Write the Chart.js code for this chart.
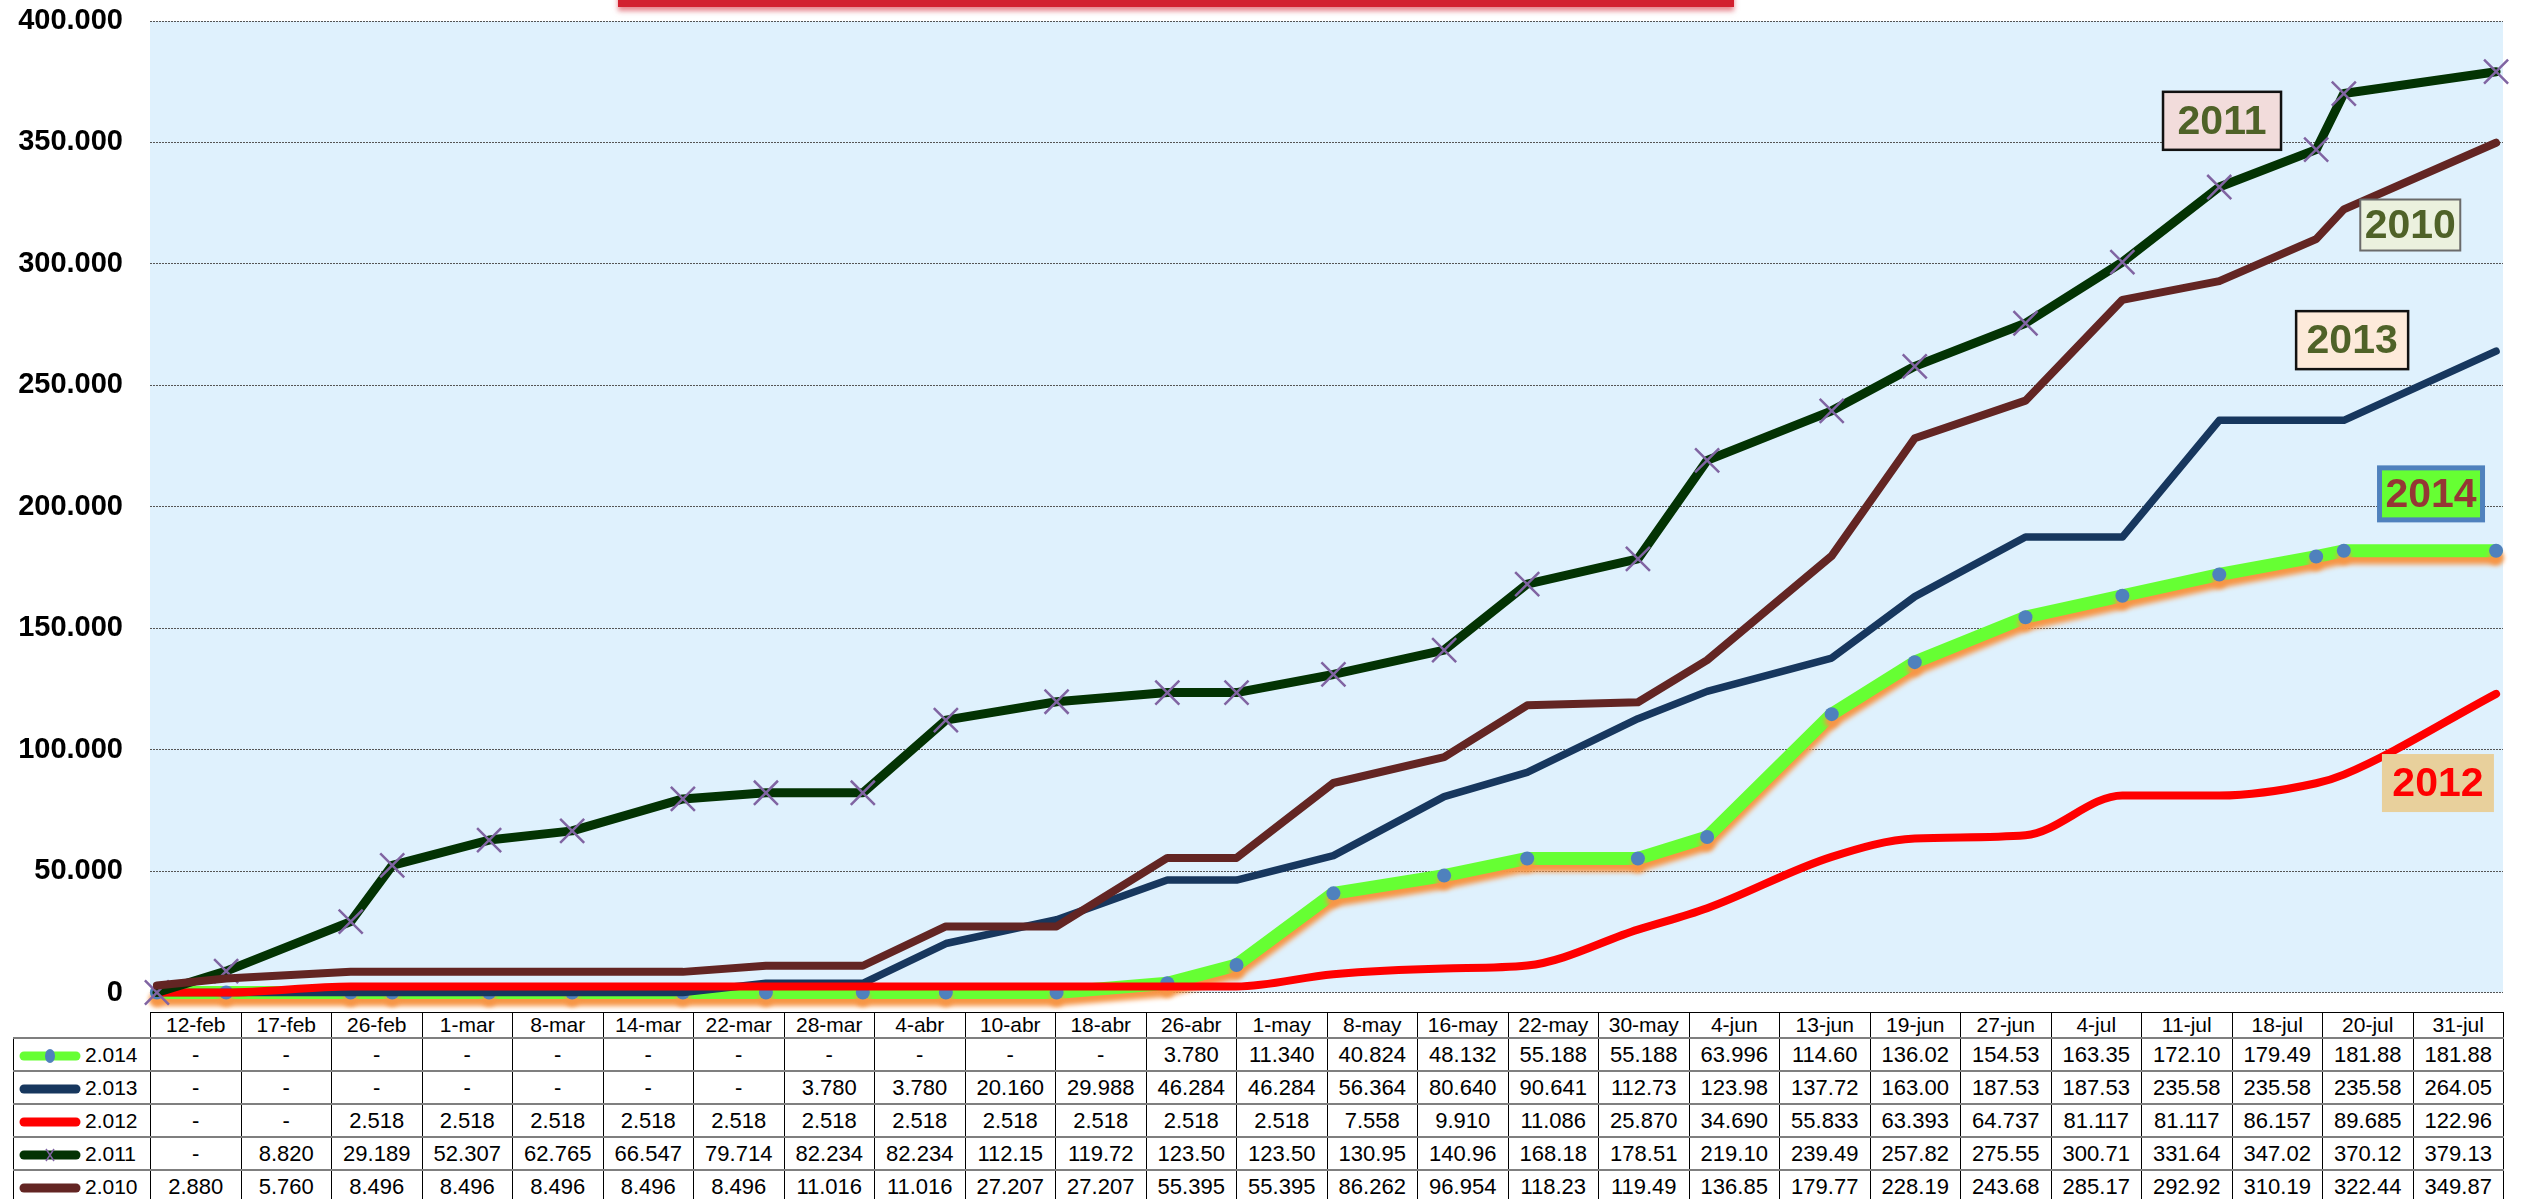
<!DOCTYPE html>
<html>
<head>
<meta charset="utf-8">
<script src="https://cdn.jsdelivr.net/npm/chart.js@4.4.1/dist/chart.umd.min.js"></script>
<style>
  html, body { margin: 0; padding: 0; background: #fff; }
  body { width: 2529px; height: 1199px; overflow: hidden; position: relative; font-family: 'Liberation Sans', Arial, sans-serif; }
  #chartBox { position: absolute; left: 0; top: 0; width: 2529px; height: 1012px; }
  #titleBar { position: absolute; left: 618px; top: -20px; width: 1116px; height: 27px; background: #d2202f; box-shadow: 0 4px 5px rgba(210, 32, 48, 0.55); }
  #dataTable { position: absolute; top: 1012px; left: 13px; border-collapse: collapse; table-layout: fixed; font-size: 22px; color: #000; }
  #dataTable td { text-align: center; padding: 0; border-left: 1px solid #000; border-right: 1px solid #000; border-bottom: 2px solid #7f7f7f; height: 31px; white-space: nowrap; overflow: hidden; }
  #dataTable tr.head td { height: 22px; font-size: 21px; border-top: 1px solid #000; border-bottom: 2px solid #7f7f7f; }
  #dataTable tr.head td.corner { border-top: none; border-left: none; }
  #dataTable td.name { text-align: left; padding-left: 4px; font-size: 21px; }
  #dataTable td.name canvas { vertical-align: middle; margin-right: 3px; }
</style>
</head>
<body>
<div id="titleBar"></div>
<div id="chartBox"><canvas id="salesChart"></canvas></div>
<table id="dataTable"></table>
<script>
'use strict';

const dateLabels = ['12-feb', '17-feb', '26-feb', '1-mar', '8-mar', '14-mar', '22-mar', '28-mar', '4-abr',
  '10-abr', '18-abr', '26-abr', '1-may', '8-may', '16-may', '22-may', '30-may', '4-jun', '13-jun',
  '19-jun', '27-jun', '4-jul', '11-jul', '18-jul', '20-jul', '31-jul'];

const seriesNames = ['2.014', '2.013', '2.012', '2.011', '2.010'];

const values2014 = [0, 0, 0, 0, 0, 0, 0, 0, 0, 0, 0, 3780, 11340, 40824, 48132, 55188, 55188, 63996,
  114600, 136020, 154530, 163350, 172100, 179490, 181880, 181880];
const values2013 = [0, 0, 0, 0, 0, 0, 0, 3780, 3780, 20160, 29988, 46284, 46284, 56364, 80640, 90641,
  112730, 123980, 137720, 163000, 187530, 187530, 235580, 235580, 235580, 264050];
const values2012 = [0, 0, 2518, 2518, 2518, 2518, 2518, 2518, 2518, 2518, 2518, 2518, 2518, 7558, 9910,
  11086, 25870, 34690, 55833, 63393, 64737, 81117, 81117, 86157, 89685, 122960];
const values2011 = [0, 8820, 29189, 52307, 62765, 66547, 79714, 82234, 82234, 112150, 119720, 123500,
  123500, 130950, 140960, 168180, 178510, 219100, 239490, 257820, 275550, 300710, 331640, 347020,
  370120, 379130];
const values2010 = [2880, 5760, 8496, 8496, 8496, 8496, 8496, 11016, 11016, 27207, 27207, 55395, 55395,
  86262, 96954, 118230, 119490, 136850, 179770, 228190, 243680, 285170, 292920, 310190, 322440, 349870];

const seriesValues = [values2014, values2013, values2012, values2011, values2010];

// dates -> day number, so the lines sit on a real date axis like the original
const monthIndex = { ene: 0, feb: 1, mar: 2, abr: 3, may: 4, jun: 5, jul: 6, ago: 7 };
function dayNumber(label) {
  const parts = label.split('-');
  return Date.UTC(2014, monthIndex[parts[1]], Number(parts[0])) / 86400000;
}
const firstDay = dayNumber(dateLabels[0]);
const dayOffsets = dateLabels.map(l => dayNumber(l) - firstDay);

function thousands(v) {
  return String(Math.round(v)).replace(/\B(?=(\d{3})+(?!\d))/g, '.');
}
function cellText(v) {
  return v === 0 ? '-' : thousands(v).slice(0, 6);
}

const seriesStyles = [
  { color: '#66ff33', width: 13, point: 'circle', pointColor: '#4f81bd', radius: 7, glow: true },
  { color: '#17375e', width: 7.5, point: false },
  { color: '#ff0000', width: 8, point: false, smooth: true },
  { color: '#033303', width: 9, point: 'crossRot', pointColor: '#8064a2', radius: 17 },
  { color: '#632523', width: 8, point: false }
];

const yearBoxes = [
  { text: '2011', day: 149.2, value: 358900, w: 118, h: 58, fill: '#f2dcdb', stroke: '#111', lw: 2.5, color: '#4f6228' },
  { text: '2010', day: 162.8, value: 316000, w: 100, h: 51, fill: '#ebf1de', stroke: '#6b6b6b', lw: 2, color: '#4f6228' },
  { text: '2013', day: 158.6, value: 268600, w: 112, h: 58, fill: '#fdeada', stroke: '#111', lw: 2.5, color: '#4f6228' },
  { text: '2014', day: 164.3, value: 205300, w: 103, h: 52, fill: '#66ff33', stroke: '#4f81bd', lw: 5, color: '#953735' },
  { text: '2012', day: 164.8, value: 86240, w: 112, h: 58, fill: '#e8d09c', stroke: null, lw: 0, color: '#ff0000' }
];

const datasets = seriesValues.map((vals, i) => {
  const s = seriesStyles[i];
  return {
    label: seriesNames[i],
    data: vals.map((v, j) => ({ x: dayOffsets[j], y: v })),
    borderColor: s.color,
    borderWidth: s.width,
    borderCapStyle: 'round',
    borderJoinStyle: 'round',
    cubicInterpolationMode: s.smooth ? 'monotone' : 'default',
    tension: 0,
    pointStyle: s.point || 'circle',
    pointRadius: s.point ? s.radius : 0,
    pointBackgroundColor: s.pointColor,
    pointBorderColor: s.pointColor,
    pointBorderWidth: s.point === 'crossRot' ? 2.5 : 0,
    fill: false,
    clip: 30,
    glow: !!s.glow,
    order: seriesValues.length - 1 - i
  };
});

const plotBackground = {
  id: 'plotBackground',
  beforeDraw(chart) {
    const a = chart.chartArea;
    const ctx = chart.ctx;
    ctx.save();
    ctx.fillStyle = '#dff1fd';
    ctx.fillRect(a.left, a.top, a.right - a.left, a.bottom - a.top);
    ctx.restore();
  }
};

const glowShadow = {
  id: 'glowShadow',
  beforeDatasetDraw(chart, args) {
    if (!chart.data.datasets[args.index].glow) return;
    const ctx = chart.ctx;
    ctx.save();
    ctx.shadowColor = 'rgba(247, 150, 70, 1)';
    ctx.shadowBlur = 5;
    ctx.shadowOffsetY = 7;
  },
  afterDatasetDraw(chart, args) {
    if (!chart.data.datasets[args.index].glow) return;
    chart.ctx.restore();
  }
};

const yearLabels = {
  id: 'yearLabels',
  afterDatasetsDraw(chart) {
    const ctx = chart.ctx;
    const xs = chart.scales.x, ys = chart.scales.y;
    ctx.save();
    yearBoxes.forEach(b => {
      const cx = xs.getPixelForValue(b.day);
      const cy = ys.getPixelForValue(b.value);
      const x = cx - b.w / 2, y = cy - b.h / 2;
      ctx.fillStyle = b.fill;
      ctx.fillRect(x, y, b.w, b.h);
      if (b.stroke) {
        ctx.lineWidth = b.lw;
        ctx.strokeStyle = b.stroke;
        ctx.strokeRect(x, y, b.w, b.h);
      }
      ctx.fillStyle = b.color;
      ctx.font = 'bold 41px "Liberation Sans", Arial, sans-serif';
      ctx.textAlign = 'center';
      ctx.textBaseline = 'middle';
      ctx.fillText(b.text, cx, cy + 2);
    });
    ctx.restore();
  }
};

const lastDay = dayOffsets[dayOffsets.length - 1];

const salesChart = new Chart(document.getElementById('salesChart'), {
  type: 'line',
  data: { datasets: datasets },
  options: {
    responsive: true,
    maintainAspectRatio: false,
    animation: false,
    layout: { padding: { top: 21, right: 26, bottom: 17, left: 0 } },
    plugins: { legend: { display: false }, tooltip: { enabled: false } },
    scales: {
      x: { type: 'linear', min: -0.5, max: lastDay + 0.5, display: false },
      y: {
        min: 0,
        max: 400000,
        afterFit(scale) {
          scale.width = 150;
          scale.paddingTop = 0;
          scale.paddingBottom = 0;
        },
        ticks: {
          stepSize: 50000,
          padding: 27,
          color: '#000',
          font: { family: '"Liberation Sans", Arial, sans-serif', size: 29, weight: 'bold', lineHeight: 1 },
          callback: v => thousands(v)
        },
        grid: { color: '#555', lineWidth: 1, drawTicks: false },
        border: { display: false, dash: [2, 1] }
      }
    }
  },
  plugins: [plotBackground, glowShadow, yearLabels]
});

// data table under the plot, columns lined up with the plot area
function drawKey(canvas, i) {
  const s = seriesStyles[i];
  const ctx = canvas.getContext('2d');
  ctx.lineCap = 'round';
  ctx.lineWidth = 9;
  ctx.strokeStyle = s.color;
  ctx.beginPath();
  ctx.moveTo(6, 9);
  ctx.lineTo(58, 9);
  ctx.stroke();
  if (s.point === 'circle') {
    ctx.fillStyle = s.pointColor;
    ctx.beginPath();
    ctx.ellipse(32, 9, 5, 7, 0, 0, Math.PI * 2);
    ctx.fill();
  } else if (s.point === 'crossRot') {
    ctx.strokeStyle = s.pointColor;
    ctx.lineWidth = 1.5;
    ctx.lineCap = 'butt';
    ctx.beginPath();
    ctx.moveTo(28, 3); ctx.lineTo(36, 15);
    ctx.moveTo(36, 3); ctx.lineTo(28, 15);
    ctx.stroke();
  }
}

function buildTable() {
  const area = salesChart.chartArea;
  const table = document.getElementById('dataTable');
  const colW = (area.right - area.left) / dateLabels.length;
  const nameW = area.left - 13;
  table.style.width = (nameW + colW * dateLabels.length) + 'px';

  const cols = document.createElement('colgroup');
  const c0 = document.createElement('col');
  c0.style.width = nameW + 'px';
  cols.appendChild(c0);
  dateLabels.forEach(() => {
    const c = document.createElement('col');
    c.style.width = colW + 'px';
    cols.appendChild(c);
  });
  table.appendChild(cols);

  const head = document.createElement('tr');
  head.className = 'head';
  const corner = document.createElement('td');
  corner.className = 'corner';
  head.appendChild(corner);
  dateLabels.forEach(l => {
    const td = document.createElement('td');
    td.textContent = l;
    head.appendChild(td);
  });
  table.appendChild(head);

  seriesValues.forEach((vals, i) => {
    const tr = document.createElement('tr');
    const name = document.createElement('td');
    name.className = 'name';
    const key = document.createElement('canvas');
    key.width = 64;
    key.height = 18;
    drawKey(key, i);
    name.appendChild(key);
    name.appendChild(document.createTextNode(seriesNames[i]));
    tr.appendChild(name);
    vals.forEach(v => {
      const td = document.createElement('td');
      td.textContent = cellText(v);
      tr.appendChild(td);
    });
    table.appendChild(tr);
  });
}

buildTable();
</script>
</body>
</html>
